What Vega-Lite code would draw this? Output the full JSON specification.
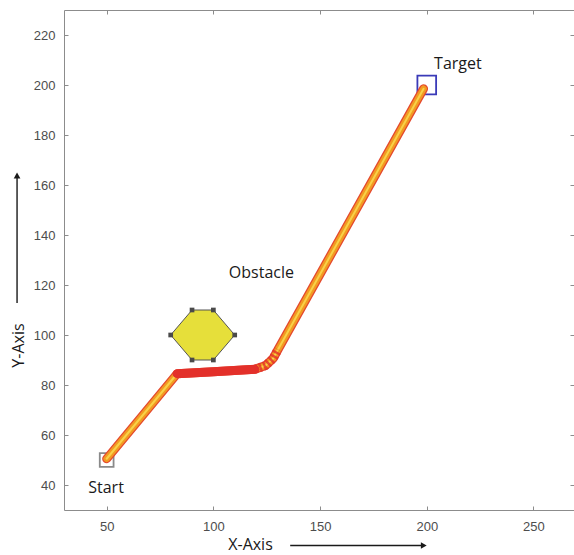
{
  "$schema": "https://vega.github.io/schema/vega-lite/v6.json",
  "width": 510,
  "height": 500,
  "autosize": {"type": "none"},
  "padding": {"left": 64, "top": 10, "right": 0, "bottom": 45},
  "background": "white",
  "config": {
    "view": {"stroke": "#8c8c8c", "strokeWidth": 1},
    "axis": {
      "domain": false,
      "grid": false,
      "tickColor": "#8c8c8c",
      "tickSize": -4,
      "tickWidth": 1,
      "labelFont": "Liberation Sans",
      "labelFontSize": 13,
      "labelColor": "#4d4d4d",
      "titleFont": "Open Sans",
      "titleFontSize": 16,
      "titleFontWeight": "normal",
      "titleColor": "#1a1a1a"
    }
  },
  "datasets": {
    "path": [
      {"ord": 1, "x": 50, "y": 50.5},
      {"ord": 2, "x": 83, "y": 84.5},
      {"ord": 3, "x": 100, "y": 85.3},
      {"ord": 4, "x": 119.5, "y": 86.3},
      {"ord": 5, "x": 124.5, "y": 87.8},
      {"ord": 6, "x": 128, "y": 90.6},
      {"ord": 7, "x": 130.3, "y": 94.2},
      {"ord": 8, "x": 198.5, "y": 198.5}
    ],
    "redseg": [
      {"ord": 1, "x": 83, "y": 84.5},
      {"ord": 2, "x": 100, "y": 85.3},
      {"ord": 3, "x": 119.5, "y": 86.3}
    ],
    "redcurve": [
      {"ord": 1, "x": 119.5, "y": 86.3},
      {"ord": 2, "x": 124.5, "y": 87.8},
      {"ord": 3, "x": 128, "y": 90.6},
      {"ord": 4, "x": 130.3, "y": 94.2}
    ],
    "hexagon": [
      {"x": 80, "lo": 100, "hi": 100},
      {"x": 90, "lo": 90, "hi": 110},
      {"x": 100, "lo": 90, "hi": 110},
      {"x": 110, "lo": 100, "hi": 100}
    ],
    "corners": [
      {"x": 80, "y": 100},
      {"x": 90, "y": 110},
      {"x": 100, "y": 110},
      {"x": 110, "y": 100},
      {"x": 100, "y": 90},
      {"x": 90, "y": 90}
    ],
    "squares": [
      {"kind": "start", "x": 50, "y": 50},
      {"kind": "target", "x": 200, "y": 200}
    ],
    "labels": [
      {"label": "Obstacle", "x": 122.5, "y": 124.8},
      {"label": "Target", "x": 214.6, "y": 208.4},
      {"label": "Start", "x": 49.7, "y": 38.8}
    ],
    "xarrow": [{"x": 136, "x2": 198, "y": 15.8}],
    "yarrow": [{"x": 8, "y": 112.8, "y2": 163.5}],
    "heads": [
      {"dir": "right", "x": 198.6, "y": 15.8},
      {"dir": "up", "x": 8, "y": 163.8}
    ]
  },
  "resolve": {"axis": {"x": "independent", "y": "independent"}},
  "layer": [
    {
      "layer": [
        {
          "data": {"name": "hexagon"},
          "mark": {"type": "area", "fill": "#e6df3a", "stroke": "#555555", "strokeWidth": 1, "fillOpacity": 1},
          "encoding": {
            "x": {
              "field": "x", "type": "quantitative",
              "scale": {"domain": [30, 269], "nice": false, "zero": false},
              "axis": {
                "orient": "bottom",
                "values": [50, 100, 150, 200, 250],
                "labelPadding": 14,
                "title": "X-Axis",
                "titleX": 186,
                "titleY": 39,
                "titleAlign": "center",
                "titleBaseline": "alphabetic"
              }
            },
            "y": {
              "field": "lo", "type": "quantitative",
              "scale": {"domain": [30, 230], "nice": false, "zero": false},
              "axis": {
                "orient": "left",
                "values": [40, 60, 80, 100, 120, 140, 160, 180, 200, 220],
                "labelPadding": 13,
                "title": "Y-Axis",
                "titleX": -41,
                "titleY": 335,
                "titleAngle": 270,
                "titleAlign": "center",
                "titleBaseline": "alphabetic"
              }
            },
            "y2": {"field": "hi"}
          }
        },
        {
          "data": {"name": "corners"},
          "mark": {"type": "point", "shape": "square", "filled": true, "color": "#4a4a4a", "size": 22, "opacity": 1},
          "encoding": {
            "x": {"field": "x", "type": "quantitative", "scale": {"domain": [30, 269], "nice": false, "zero": false}},
            "y": {"field": "y", "type": "quantitative", "scale": {"domain": [30, 230], "nice": false, "zero": false}}
          }
        },
        {
          "data": {"name": "squares"},
          "mark": {"type": "point", "shape": "square", "filled": false, "strokeWidth": 1.8, "opacity": 1},
          "encoding": {
            "x": {"field": "x", "type": "quantitative", "scale": {"domain": [30, 269], "nice": false, "zero": false}},
            "y": {"field": "y", "type": "quantitative", "scale": {"domain": [30, 230], "nice": false, "zero": false}},
            "stroke": {"field": "kind", "type": "nominal", "scale": {"domain": ["start", "target"], "range": ["#8a8a8a", "#3a3ab8"]}, "legend": null},
            "size": {"field": "kind", "type": "nominal", "scale": {"domain": ["start", "target"], "range": [190, 350]}, "legend": null}
          }
        },
        {
          "data": {"name": "path"},
          "mark": {"type": "line", "color": "#e4482e", "strokeWidth": 9, "strokeCap": "round", "strokeJoin": "round"},
          "encoding": {
            "x": {"field": "x", "type": "quantitative", "scale": {"domain": [30, 269], "nice": false, "zero": false}},
            "y": {"field": "y", "type": "quantitative", "scale": {"domain": [30, 230], "nice": false, "zero": false}},
            "order": {"field": "ord"}
          }
        },
        {
          "data": {"name": "path"},
          "mark": {"type": "line", "color": "#f29a22", "strokeWidth": 6.5, "strokeCap": "round", "strokeJoin": "round"},
          "encoding": {
            "x": {"field": "x", "type": "quantitative", "scale": {"domain": [30, 269], "nice": false, "zero": false}},
            "y": {"field": "y", "type": "quantitative", "scale": {"domain": [30, 230], "nice": false, "zero": false}},
            "order": {"field": "ord"}
          }
        },
        {
          "data": {"name": "path"},
          "mark": {"type": "line", "color": "#f8d247", "strokeWidth": 2, "strokeCap": "round", "strokeJoin": "round"},
          "encoding": {
            "x": {"field": "x", "type": "quantitative", "scale": {"domain": [30, 269], "nice": false, "zero": false}},
            "y": {"field": "y", "type": "quantitative", "scale": {"domain": [30, 230], "nice": false, "zero": false}},
            "order": {"field": "ord"}
          }
        },
        {
          "data": {"name": "redseg"},
          "mark": {"type": "line", "color": "#e3302a", "strokeWidth": 9, "strokeCap": "round", "strokeJoin": "round"},
          "encoding": {
            "x": {"field": "x", "type": "quantitative", "scale": {"domain": [30, 269], "nice": false, "zero": false}},
            "y": {"field": "y", "type": "quantitative", "scale": {"domain": [30, 230], "nice": false, "zero": false}},
            "order": {"field": "ord"}
          }
        },
        {
          "data": {"name": "redcurve"},
          "mark": {"type": "line", "color": "#e3302a", "strokeWidth": 9, "strokeDash": [2.5, 2], "opacity": 0.8, "strokeJoin": "round"},
          "encoding": {
            "x": {"field": "x", "type": "quantitative", "scale": {"domain": [30, 269], "nice": false, "zero": false}},
            "y": {"field": "y", "type": "quantitative", "scale": {"domain": [30, 230], "nice": false, "zero": false}},
            "order": {"field": "ord"}
          }
        },
        {
          "data": {"name": "labels"},
          "mark": {"type": "text", "font": "Open Sans", "fontSize": 16, "color": "#1a1a1a", "align": "center", "baseline": "middle"},
          "encoding": {
            "x": {"field": "x", "type": "quantitative", "scale": {"domain": [30, 269], "nice": false, "zero": false}},
            "y": {"field": "y", "type": "quantitative", "scale": {"domain": [30, 230], "nice": false, "zero": false}},
            "text": {"field": "label"}
          }
        },
        {
          "data": {"name": "xarrow"},
          "mark": {"type": "rule", "color": "#1a1a1a", "strokeWidth": 1.4},
          "encoding": {
            "x": {"field": "x", "type": "quantitative", "scale": {"domain": [30, 269], "nice": false, "zero": false}},
            "x2": {"field": "x2"},
            "y": {"field": "y", "type": "quantitative", "scale": {"domain": [30, 230], "nice": false, "zero": false}}
          }
        },
        {
          "data": {"name": "yarrow"},
          "mark": {"type": "rule", "color": "#1a1a1a", "strokeWidth": 1.4},
          "encoding": {
            "x": {"field": "x", "type": "quantitative", "scale": {"domain": [30, 269], "nice": false, "zero": false}},
            "y": {"field": "y", "type": "quantitative", "scale": {"domain": [30, 230], "nice": false, "zero": false}},
            "y2": {"field": "y2"}
          }
        },
        {
          "data": {"name": "heads"},
          "mark": {"type": "point", "filled": true, "color": "#1a1a1a", "size": 45, "opacity": 1},
          "encoding": {
            "x": {"field": "x", "type": "quantitative", "scale": {"domain": [30, 269], "nice": false, "zero": false}},
            "y": {"field": "y", "type": "quantitative", "scale": {"domain": [30, 230], "nice": false, "zero": false}},
            "shape": {"field": "dir", "type": "nominal", "scale": {"domain": ["right", "up"], "range": ["triangle-right", "triangle-up"]}, "legend": null}
          }
        }
      ]
    },
    {
      "data": {"name": "corners"},
      "mark": {"type": "point", "opacity": 0},
      "encoding": {
        "x": {
          "field": "x", "type": "quantitative",
          "scale": {"domain": [30, 269], "nice": false, "zero": false},
          "axis": {"orient": "top", "values": [50, 100, 150, 200, 250], "labels": false, "title": null}
        },
        "y": {
          "field": "y", "type": "quantitative",
          "scale": {"domain": [30, 230], "nice": false, "zero": false},
          "axis": {"orient": "right", "values": [40, 60, 80, 100, 120, 140, 160, 180, 200, 220], "labels": false, "title": null}
        }
      }
    }
  ]
}
